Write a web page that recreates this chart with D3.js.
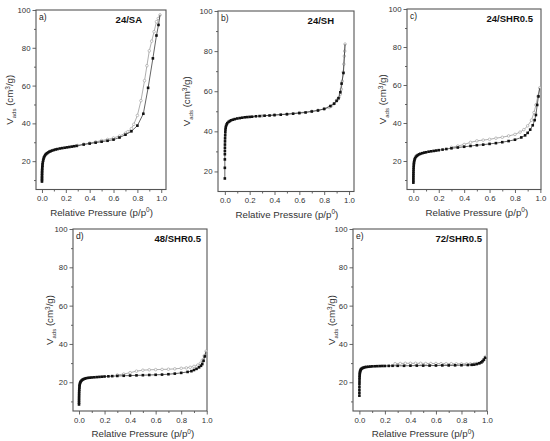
<!DOCTYPE html>
<html><head><meta charset="utf-8">
<script src="https://cdn.jsdelivr.net/npm/d3@7/dist/d3.min.js"></script>
<style>body{margin:0;background:#fff}svg{display:block}text{font-family:"Liberation Sans",Arial,sans-serif}</style>
</head><body>
<svg id="c" width="550" height="441"></svg>
<script>
// ---- data ----
const panelNames = ["24/SA","24/SH","24/SHR0.5","48/SHR0.5","72/SHR0.5"];
const panelLetters = ["a)","b)","c)","d)","e)"];
const xTicks = [0,0.2,0.4,0.6,0.8,1.0];
const yTicks = [20,40,60,80,100];

const lowX = [0.00005,0.0001,0.0002,0.0003,0.0005,0.0008,0.001,0.0015,0.002,0.003,0.004,0.005,0.007,0.01,0.014,0.02,0.027,0.035,0.045,0.055,0.07,0.085,0.1,0.12,0.14,0.16,0.18,0.2,0.23,0.26,0.3,0.35,0.4,0.45,0.5,0.55,0.6,0.65,0.7,0.75,0.8,0.85,0.88,0.9,0.92,0.94,0.955,0.965,0.975,0.985];

const aAdsX = [0.00005,0.0001,0.0002,0.0003,0.0005,0.0008,0.001,0.0015,0.002,0.003,0.004,0.005,0.007,0.01,0.013,0.017,0.022,0.028,0.035,0.043,0.052,0.062,0.073,0.085,0.1,0.115,0.13,0.15,0.17,0.19,0.21,0.23,0.25,0.27,0.29,0.35,0.4,0.45,0.5,0.55,0.6,0.65,0.7,0.75,0.8,0.85,0.89,0.93,0.96,0.977];
const aAdsY = [9.2,10,10.8,11.6,12.5,13.4,14.2,15.1,15.9,16.8,17.6,18.4,19.3,20.3,21.2,22.0,22.7,23.3,23.8,24.2,24.6,25.0,25.3,25.6,25.9,26.2,26.4,26.7,26.9,27.1,27.3,27.5,27.7,27.9,28.1,28.8,29.3,29.8,30.3,30.8,31.4,32.5,34.0,35.8,38.8,45.1,58.8,74.4,86.5,92.1];
const aDesX = [0.99,0.975,0.96,0.94,0.92,0.90,0.88,0.86,0.83,0.80,0.77,0.75,0.72,0.70,0.65,0.6,0.55,0.5,0.45,0.4,0.35,0.3];
const aDesY = [97.4,95.5,93.8,88.5,83.5,78.4,70.5,62.6,52,44.2,39.5,37.2,35.6,34.8,33.3,32.3,31.5,30.9,30.2,29.6,29.0,28.3];

const bAdsX = [0.00005,0.0001,0.0002,0.0003,0.0005,0.0007,0.001,0.0015,0.002,0.003,0.004,0.005,0.007,0.01,0.015,0.02,0.03,0.04,0.05,0.065,0.08,0.1,0.12,0.14,0.16,0.18,0.2,0.22,0.25,0.28,0.32,0.36,0.4,0.45,0.5,0.55,0.6,0.65,0.7,0.75,0.8,0.85,0.88,0.9,0.915,0.93,0.94,0.955];
const bAdsY = [16.5,21.8,26,28.6,30.2,31.8,33.4,35,36.5,38,39.5,40.8,41.8,42.7,43.5,44.1,44.7,45.1,45.5,45.8,46.1,46.4,46.6,46.8,47.0,47.1,47.2,47.3,47.5,47.6,47.8,47.9,48.1,48.3,48.5,48.8,49.1,49.4,49.9,50.4,51.2,52.6,53.8,55.2,56.5,59.5,63.8,69.1];
const bDesX = [0.968,0.965,0.962,0.958,0.953,0.946,0.938,0.93,0.92,0.91,0.9,0.88,0.86,0.84,0.8,0.75,0.7,0.6,0.5,0.4,0.3];
const bDesY = [83.5,80,77.5,73.5,69.5,65,61,58.5,57,56,55.3,53.8,52.7,51.9,51.1,50.5,50,49.3,48.7,48.2,47.7];

const cAdsX = lowX;
const cAdsY = [8.6,9.5,10.5,11.5,12.5,13.5,14.5,15.5,16.5,17.5,18.4,19.2,20.0,20.8,21.5,22.2,22.7,23.1,23.5,23.8,24.1,24.4,24.6,24.9,25.1,25.3,25.5,25.7,26.0,26.3,26.7,27.1,27.5,27.9,28.3,28.6,29.0,29.4,29.9,30.5,31.2,32.4,33.5,34.8,36.5,38.8,41.5,44.2,49.5,54];
const cDesX = [0.995,0.98,0.965,0.95,0.93,0.9,0.87,0.84,0.8,0.75,0.7,0.65,0.6,0.55,0.5,0.45,0.4,0.35,0.3];
const cDesY = [58.5,54,49.5,45.5,41.5,38.5,36.5,35.2,34.0,33.2,32.5,32,31.4,31,30.6,29.8,28.7,27.9,27.2];

const dAdsX = lowX;
const dAdsY = [8.4,9.3,10.3,11.3,12.3,13.3,14.3,15.3,16.2,17.1,17.9,18.6,19.3,19.9,20.4,20.9,21.3,21.6,21.9,22.1,22.3,22.4,22.5,22.6,22.7,22.8,22.9,23.0,23.1,23.2,23.3,23.4,23.5,23.6,23.7,23.8,23.9,24.0,24.2,24.5,24.9,25.4,25.8,26.4,27.0,27.8,28.6,29.5,31.2,33.5];
const dDesX = [0.995,0.98,0.965,0.95,0.93,0.9,0.87,0.84,0.8,0.75,0.7,0.65,0.6,0.55,0.5,0.45,0.4,0.35,0.3];
const dDesY = [36.2,33.8,31.5,29.9,29,28.3,27.8,27.5,27.3,27,26.8,26.7,26.6,26.5,26.3,25.8,25.0,24.3,23.8];

const eAdsX = lowX;
const eAdsY = [13,14.5,16,17.5,19,20.3,21.5,22.5,23.4,24.2,24.9,25.5,26.0,26.5,26.9,27.2,27.5,27.7,27.9,28.0,28.1,28.2,28.3,28.35,28.4,28.45,28.5,28.5,28.55,28.6,28.6,28.6,28.65,28.7,28.7,28.7,28.75,28.8,28.8,28.85,28.9,29.0,29.1,29.2,29.5,29.9,30.4,31.0,31.8,32.8];
const eDesX = [0.99,0.975,0.96,0.94,0.92,0.9,0.87,0.84,0.8,0.76,0.72,0.68,0.64,0.6,0.56,0.52,0.48,0.44,0.4,0.36,0.32,0.28];
const eDesY = [33.4,31.5,30.5,30.0,29.8,29.7,29.6,29.6,29.6,29.6,29.7,29.7,29.7,29.8,29.8,29.8,29.9,29.9,29.9,29.9,29.8,29.7];

const adsX = [aAdsX,bAdsX,cAdsX,dAdsX,eAdsX];
const adsY = [aAdsY,bAdsY,cAdsY,dAdsY,eAdsY];
const desX = [aDesX,bDesX,cDesX,dDesX,eDesX];
const desY = [aDesY,bDesY,cDesY,dDesY,eDesY];
const xDomains = [[-0.05,1.04],[-0.055,1.04],[-0.05,1.005],[-0.047,1.002],[-0.05,1.0]];
const yDomains = [[5,100],[10,100],[5,100],[5,100],[5,100]];

// ---- layout ----
const layout = [
  {l:36,t:10,r:166,b:189.5,ylab:-26,titleR:142},
  {l:218,t:11,r:354,b:191.5,ylab:-31,titleR:334},
  {l:407,t:9,r:541,b:189.5,ylab:-24,titleR:533},
  {l:73,t:229,r:207,b:411,ylab:-23,titleR:201},
  {l:353,t:229,r:487,b:411,ylab:-21,titleR:482}
];
const frameCol = "#555", textCol = "#333";
const svg = d3.select("#c");

layout.forEach((L,i)=>{
  const x = d3.scaleLinear().domain(xDomains[i]).range([L.l,L.r]);
  const y = d3.scaleLinear().domain(yDomains[i]).range([L.b,L.t]);
  const g = svg.append("g");

  // axes
  const xAx = d3.axisBottom(x).tickValues(xTicks).tickFormat(d3.format(".1f")).tickSize(3.5).tickPadding(2.5);
  const xMinor = d3.axisBottom(x).tickValues([0.1,0.3,0.5,0.7,0.9]).tickFormat("").tickSize(2);
  const yAx = d3.axisLeft(y).tickValues(yTicks).tickSize(3.5).tickPadding(2);
  const yMinorVals = [10,30,50,70,90].filter(v=>v>yDomains[i][0]);
  const yMinor = d3.axisLeft(y).tickValues(yMinorVals).tickFormat("").tickSize(2);
  [[xAx,"translate(0,"+L.b+")"],[xMinor,"translate(0,"+L.b+")"],[yAx,"translate("+L.l+",0)"],[yMinor,"translate("+L.l+",0)"]].forEach(([ax,tr])=>{
    const a = g.append("g").attr("transform",tr).call(ax);
    a.select(".domain").remove();
    a.selectAll("line").attr("stroke",frameCol).attr("stroke-width",0.9);
    a.selectAll("text").attr("fill",textCol).style("font-size","7.8px");
  });
  g.append("rect").attr("x",L.l).attr("y",L.t).attr("width",L.r-L.l).attr("height",L.b-L.t)
    .attr("fill","none").attr("stroke",frameCol).attr("stroke-width",1.1);

  // data
  const ads = adsX[i].map((v,k)=>[v,adsY[i][k]]);
  const des = desX[i].map((v,k)=>[v,desY[i][k]]);
  const line = d3.line().x(d=>x(d[0])).y(d=>y(d[1]));
  g.append("path").datum(des).attr("d",line).attr("fill","none").attr("stroke","#9a9a9a").attr("stroke-width",0.8);
  g.selectAll(".dp").data(des).join("circle").attr("cx",d=>x(d[0])).attr("cy",d=>y(d[1])).attr("r",1.3)
    .attr("fill","#fff").attr("stroke","#999").attr("stroke-width",0.6);
  g.append("path").datum(ads.concat([des[0]])).attr("d",line).attr("fill","none").attr("stroke","#222").attr("stroke-width",0.7);
  g.selectAll(".ap").data(ads).join("rect").attr("x",d=>x(d[0])-1.3).attr("y",d=>y(d[1])-1.3).attr("width",2.6).attr("height",2.6).attr("fill","#111");

  // labels
  g.append("text").attr("x",L.l+3).attr("y",L.t+10).attr("fill","#222").style("font-size","8.5px").text(panelLetters[i]);
  g.append("text").attr("x",L.titleR).attr("y",L.t+13).attr("text-anchor","end").attr("fill","#111")
    .style("font-size","9.5px").style("font-weight","bold").text(panelNames[i]);
  const xl = g.append("text").attr("x",(x(0)+x(1))/2).attr("y",L.b+26).attr("text-anchor","middle").attr("fill",textCol).style("font-size","9.7px");
  xl.append("tspan").text("Relative Pressure (p/p");
  xl.append("tspan").attr("dy",-3.5).style("font-size","6.5px").text("0");
  xl.append("tspan").attr("dy",3.5).text(")");
  const cy = (L.t+L.b)/2, cx = L.l+L.ylab;
  const yl = g.append("text").attr("transform",`translate(${cx},${cy}) rotate(-90)`).attr("text-anchor","middle").attr("dy","0.35em").attr("fill",textCol).style("font-size","9.7px");
  yl.append("tspan").text("V");
  yl.append("tspan").attr("dy",2.5).style("font-size","6px").text("ads");
  yl.append("tspan").attr("dy",-2.5).text(" (cm");
  yl.append("tspan").attr("dy",-3.5).style("font-size","6.5px").text("3");
  yl.append("tspan").attr("dy",3.5).text("/g)");
});
</script>
</body></html>
